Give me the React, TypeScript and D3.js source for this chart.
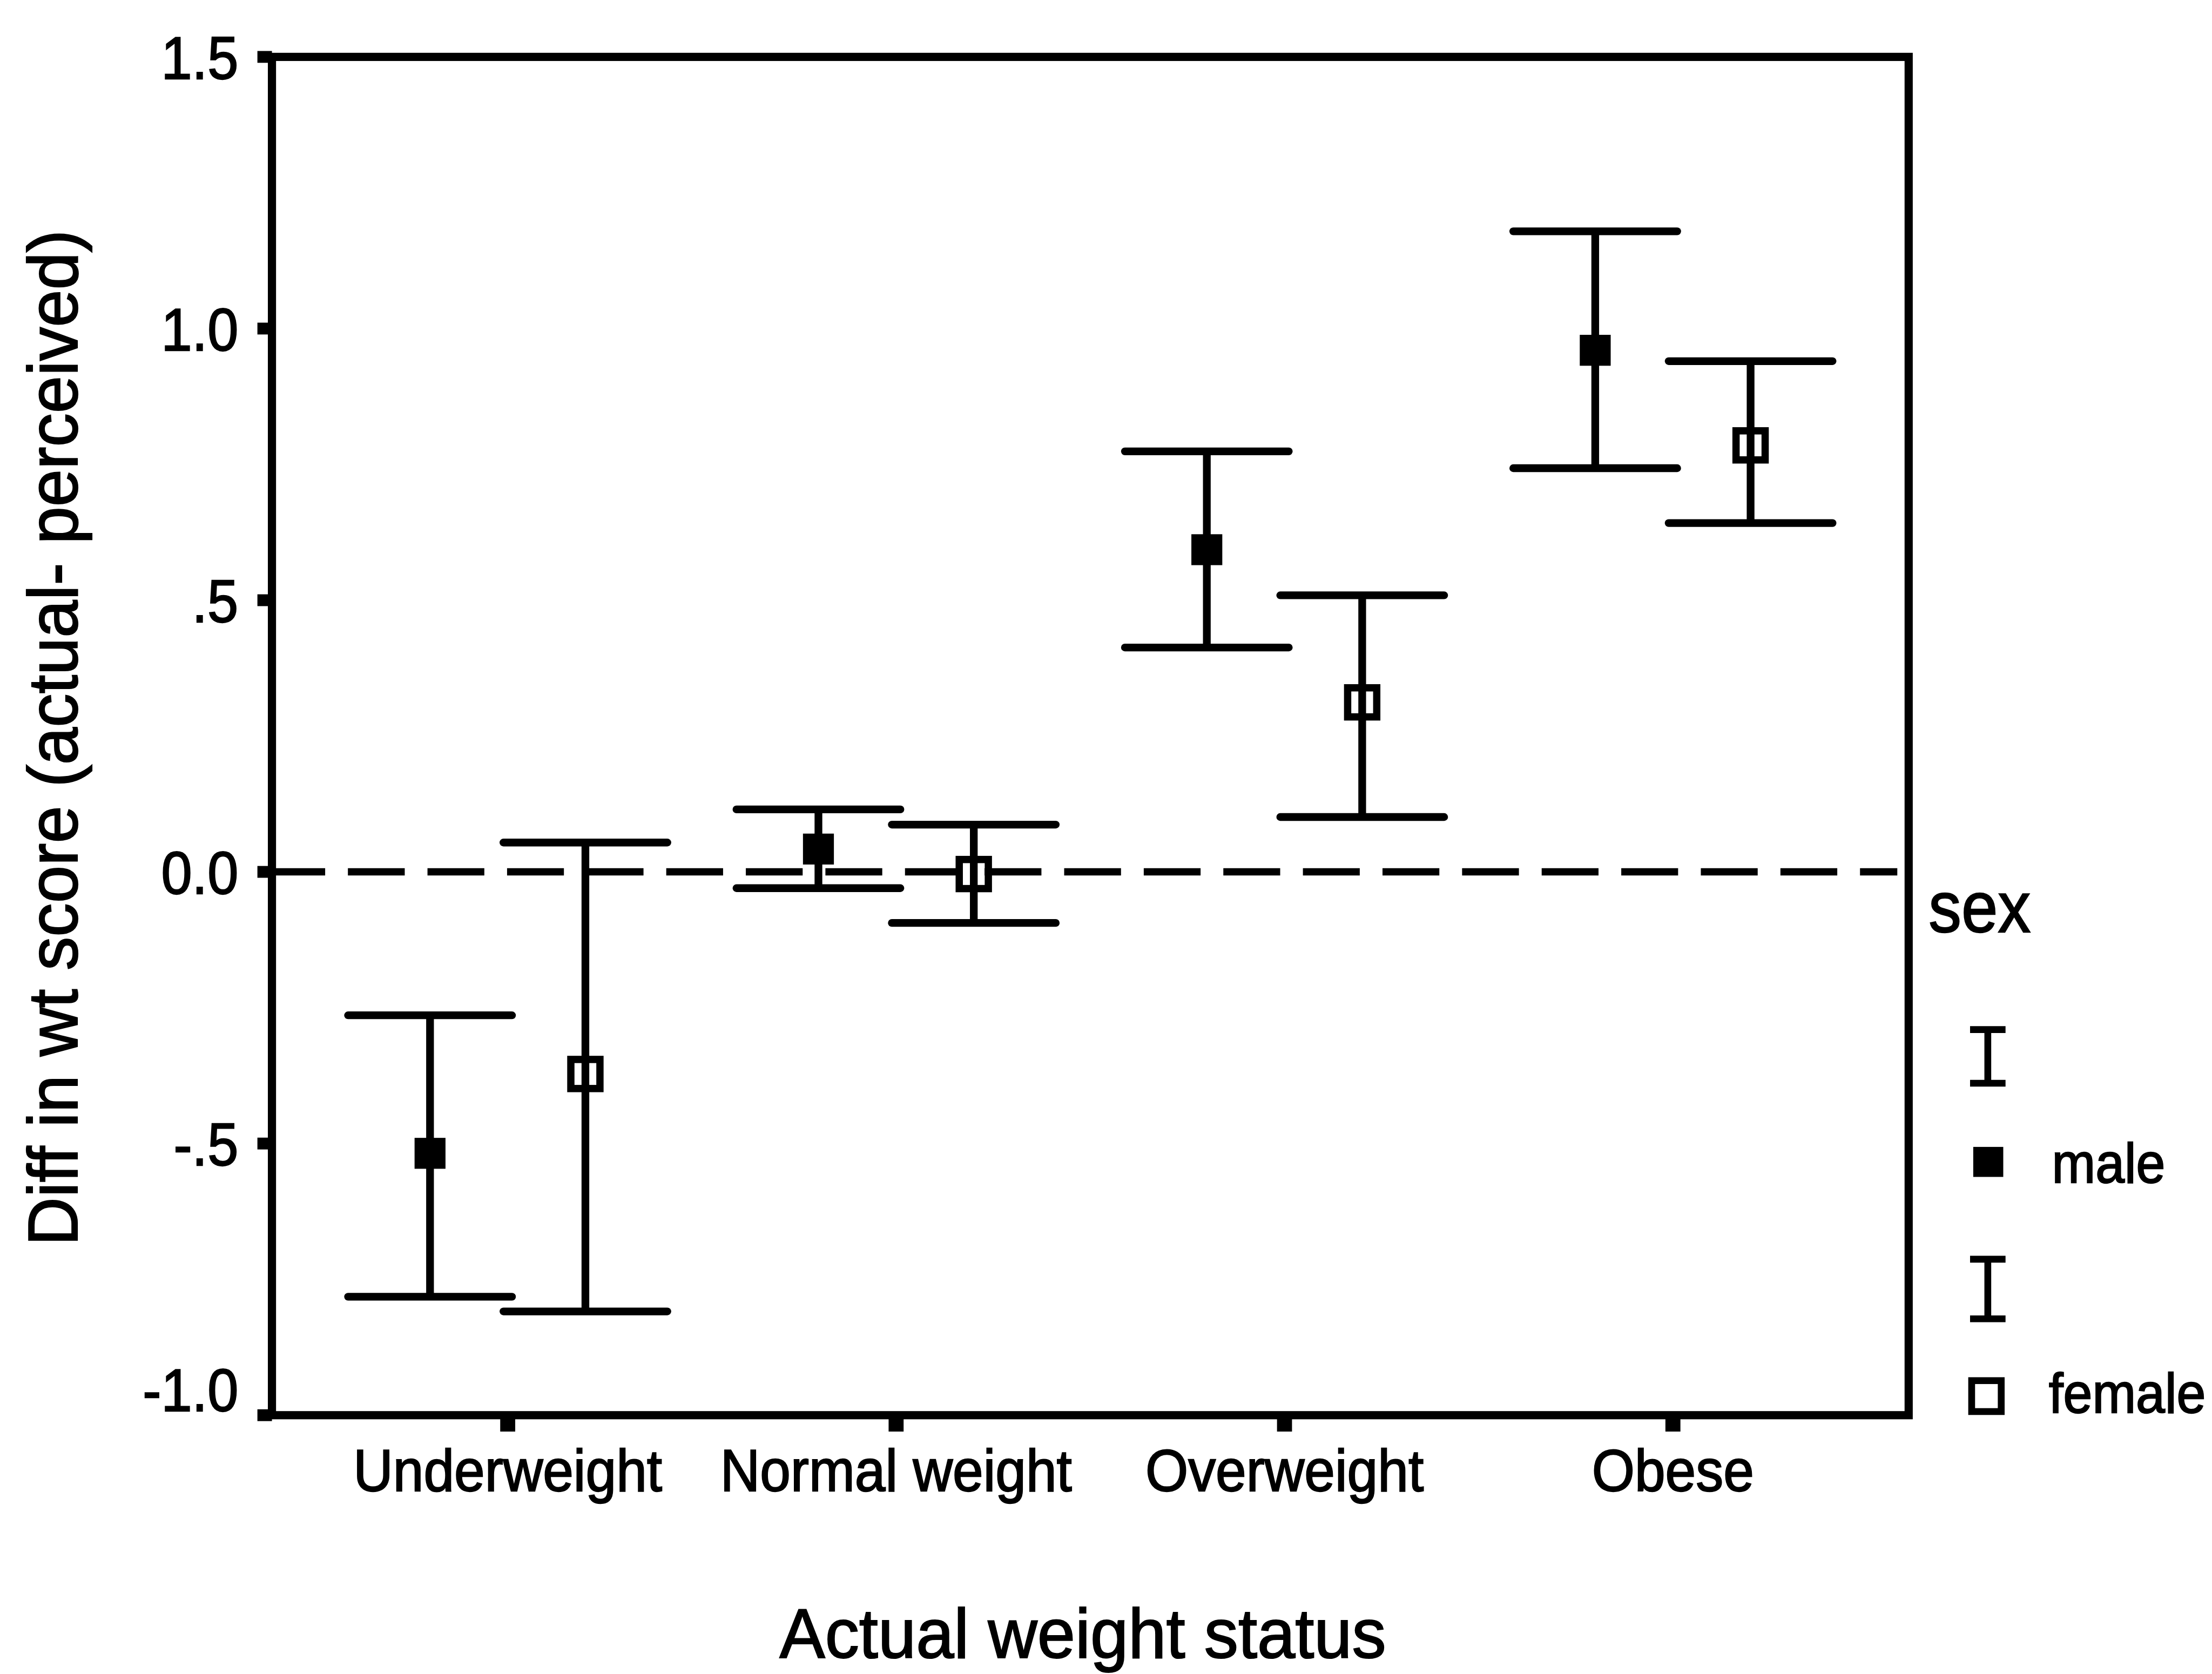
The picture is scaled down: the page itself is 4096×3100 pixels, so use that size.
import React from 'react';
import * as d3 from 'd3';

// ---- data ----
const categories = ['Underweight', 'Normal weight', 'Overweight', 'Obese'];
const maleMean = [-0.518, 0.042, 0.593, 0.96];
const maleLower = [-0.782, -0.03, 0.413, 0.743];
const maleUpper = [-0.264, 0.115, 0.774, 1.179];
const femaleMean = [-0.372, -0.004, 0.312, 0.785];
const femaleLower = [-0.809, -0.094, 0.101, 0.642];
const femaleUpper = [0.054, 0.087, 0.509, 0.94];
const yTicks = [-1.0, -0.5, 0.0, 0.5, 1.0, 1.5];
const yTickLabels = ['-1.0', '-.5', '0.0', '.5', '1.0', '1.5'];
const seriesNames = ['male', 'female'];
const yTitle = 'Diff in wt score (actual- perceived)';
const xTitle = 'Actual weight status';
const legendTitle = 'sex';

const FONT = "'Liberation Sans', Arial, Helvetica, sans-serif";
const TEXT_STROKE = 2.5;

function Label({ x, y, size, anchor = 'start', sy = 1.08, children }: any) {
  return (
    <text
      transform={`translate(${x}, ${y}) scale(1, ${sy})`}
      textAnchor={anchor}
      fontFamily={FONT}
      fontSize={size}
      fill="#000"
      stroke="#000"
      strokeWidth={TEXT_STROKE}
    >
      {children}
    </text>
  );
}

export default function App() {
  // drawing in reference pixel units; viewBox scales to 0.842
  const W = 4864;
  const H = 3681;
  const left = 598;
  const right = 4197;
  const top = 125;
  const bottom = 3112;

  const x = d3.scalePoint<string>().domain(categories).range([left, right]).padding(0.607).align(0.5);
  const step = x.step();
  const y = d3.scaleLinear().domain([-1, 1.5]).range([bottom, top]);
  const off = 0.2 * step;
  const capHalf = 0.211 * step;

  const series = [
    { name: seriesNames[0], mean: maleMean, lo: maleLower, hi: maleUpper, dx: -off, filled: true },
    { name: seriesNames[1], mean: femaleMean, lo: femaleLower, hi: femaleUpper, dx: off, filled: false },
  ];

  const lw = 17;
  const filledSide = 68;
  const openOuter = 80;
  const openStroke = 16;

  const yMin = d3.min(yTicks) as number;

  return (
    <svg
      width={4096}
      height={3100}
      viewBox={`0 0 ${W} ${H}`}
      style={{ position: 'absolute', left: 0, top: 0, background: '#fff' }}
    >
      <rect x={0} y={0} width={W} height={H} fill="#fff" />

      {/* zero reference dashed line */}
      <line
        x1={left - 8}
        x2={right - 25}
        y1={y(0)}
        y2={y(0)}
        stroke="#000"
        strokeWidth={16}
        strokeDasharray="125 50"
      />

      {/* error bars and markers */}
      {series.map((s) => (
        <g key={s.name}>
          {categories.map((c, i) => {
            const cx = (x(c) as number) + s.dx;
            return (
              <g key={c}>
                <line x1={cx} x2={cx} y1={y(s.lo[i])} y2={y(s.hi[i])} stroke="#000" strokeWidth={lw} />
                <line x1={cx - capHalf} x2={cx + capHalf} y1={y(s.hi[i])} y2={y(s.hi[i])} stroke="#000" strokeWidth={lw} strokeLinecap="round" />
                <line x1={cx - capHalf} x2={cx + capHalf} y1={y(s.lo[i])} y2={y(s.lo[i])} stroke="#000" strokeWidth={lw} strokeLinecap="round" />
                {s.filled ? (
                  <rect x={cx - filledSide / 2} y={y(s.mean[i]) - filledSide / 2} width={filledSide} height={filledSide} fill="#000" />
                ) : (
                  <rect
                    x={cx - (openOuter - openStroke) / 2}
                    y={y(s.mean[i]) - (openOuter - openStroke) / 2}
                    width={openOuter - openStroke}
                    height={openOuter - openStroke}
                    fill="none"
                    stroke="#000"
                    strokeWidth={openStroke}
                  />
                )}
              </g>
            );
          })}
        </g>
      ))}

      {/* frame */}
      <rect x={left} y={top} width={right - left} height={bottom - top} fill="none" stroke="#000" strokeWidth={18} />

      {/* y ticks and labels */}
      {yTicks.map((v, i) => (
        <g key={v}>
          <line x1={left - 32} x2={left} y1={y(v)} y2={y(v)} stroke="#000" strokeWidth={26} />
          <Label x={524} y={v === yMin ? y(v) - 9 : y(v) + 48} size={122} anchor="end">
            {yTickLabels[i]}
          </Label>
        </g>
      ))}

      {/* x ticks and labels */}
      {categories.map((c) => (
        <g key={c}>
          <line x1={x(c) as number} x2={x(c) as number} y1={bottom} y2={bottom + 36} stroke="#000" strokeWidth={33} />
          <Label x={x(c) as number} y={3278} size={121} anchor="middle">
            {c}
          </Label>
        </g>
      ))}

      {/* axis titles */}
      <text
        transform={`translate(170, ${(top + bottom) / 2 + 4}) rotate(-90) scale(1, 1.04)`}
        textAnchor="middle"
        fontFamily={FONT}
        fontSize={148}
        fill="#000"
        stroke="#000"
        strokeWidth={TEXT_STROKE}
      >
        {yTitle}
      </text>
      <Label x={2381} y={3646} size={150} anchor="middle" sy={1.03}>
        {xTitle}
      </Label>

      {/* legend */}
      <Label x={4241} y={2049} size={144} sy={1.1}>
        {legendTitle}
      </Label>
      {[
        { y0: 2257, y1: 2389 },
        { y0: 2762, y1: 2907 },
      ].map((b, k) => (
        <g key={k}>
          <line x1={4371} x2={4371} y1={b.y0 + 7} y2={b.y1 - 7} stroke="#000" strokeWidth={15} />
          <line x1={4332} x2={4410} y1={b.y0 + 7} y2={b.y0 + 7} stroke="#000" strokeWidth={15} />
          <line x1={4332} x2={4410} y1={b.y1 - 7} y2={b.y1 - 7} stroke="#000" strokeWidth={15} />
        </g>
      ))}
      <rect x={4372 - 33} y={2555 - 33} width={66} height={66} fill="#000" />
      <Label x={4512} y={2601} size={115}>
        {seriesNames[0]}
      </Label>
      <rect x={4368 - 32.5} y={3070 - 34} width={65} height={68} fill="none" stroke="#000" strokeWidth={15} />
      <Label x={4505} y={3106} size={115}>
        {seriesNames[1]}
      </Label>
    </svg>
  );
}
